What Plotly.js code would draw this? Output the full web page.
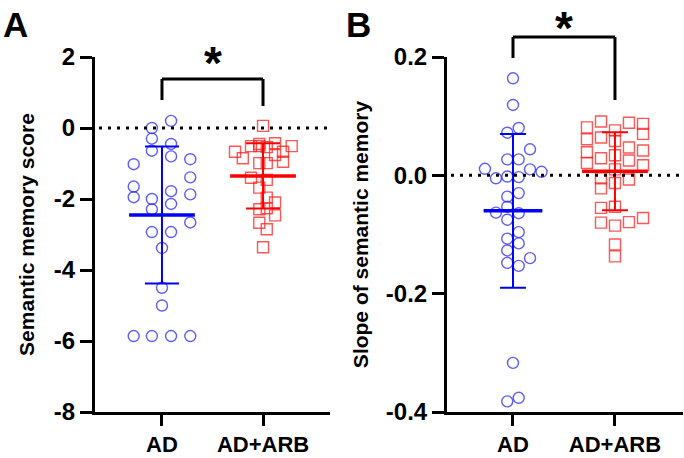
<!DOCTYPE html>
<html>
<head>
<meta charset="utf-8">
<script src="https://cdn.plot.ly/plotly-3.0.1.min.js"></script>
<style>html,body{margin:0;padding:0;background:#fff;}#chart{width:684px;height:458px;}</style>
</head>
<body>
<div id="chart"></div>
<script>
// ---- data ----
const groups = ['AD', 'AD+ARB'];

// Panel A: semantic memory score
const scoreAD = [0.0, 0.2, -0.3, -0.45, -0.64, -0.8, -0.88, -1.02, -1.39, -1.65, -1.95, -1.78, -1.87,
  -2.0, -2.14, -2.29, -2.66, -2.93, -2.93, -3.38, -4.5, -5.0, -5.86, -5.86, -5.86, -5.86];
const scoreADJitter = [-0.1, 0.09, -0.1, 0.09, -0.1, 0.09, 0.28, -0.28, 0.28, -0.28, -0.28, 0.09, 0.28,
  -0.1, 0.09, -0.1, 0.28, -0.1, 0.09, 0, 0, 0, -0.28, -0.1, 0.09, 0.28];
const scoreARB = [0.06, -0.67, -0.85, -0.51, -0.51, -0.54, -0.43, -0.67, -0.51, -0.99, -0.99, -0.76, -0.95,
  -1.4, -1.46, -1.68, -1.96, -2.1, -2.29, -2.26, -2.46, -2.67, -2.85, -3.36, -0.45];
const scoreARBJitter = [0, -0.277, -0.2, -0.119, -0.037, 0.037, 0.119, 0.198, 0.284, -0.037, 0.037, 0.119, 0.198,
  -0.119, 0.037, -0.037, 0.037, 0.119, -0.037, 0.037, 0.119, -0.037, 0.037, 0, -0.037];
const scoreMean = [-2.45, -1.35];
const scoreSD = [1.93, 0.92];

// Panel B: slope of semantic memory
const slopeAD = [0.164, 0.119, 0.080, 0.072, 0.044, 0.027, 0.027, 0.011, 0.010, 0.006, -0.005, -0.002, -0.003,
  -0.036, -0.030, -0.053, -0.063, -0.064, -0.075, -0.096, -0.107, -0.115, -0.127, -0.140, -0.148, -0.153,
  -0.317, -0.382, -0.376];
const slopeADJitter = [0, 0, 0.056, -0.056, 0.167, -0.056, 0.056, -0.275, 0.167, 0.28, -0.167, -0.056, 0.056,
  -0.056, 0.056, -0.056, -0.167, 0.056, -0.056, 0.056, -0.056, 0.056, -0.056, 0.167, -0.056, 0.056,
  0, -0.056, 0.056];
const slopeARB = [0.081, 0.061, 0.039, 0.021, 0.091, 0.064, 0.029, 0.076, 0.058, 0.034, 0.010, 0.089, 0.047,
  0.025, 0.087, 0.070, 0.042, 0.017, -0.005, -0.022, -0.013, -0.007, -0.055, -0.053, -0.080, -0.085,
  -0.079, -0.072, -0.117, -0.137];
const slopeARBJitter = [-0.275, -0.275, -0.275, -0.275, -0.137, -0.137, -0.137, 0, 0, 0, 0, 0.137, 0.137,
  0.137, 0.275, 0.275, 0.275, 0.275, -0.137, -0.137, 0, 0.137, -0.137, 0, -0.137, 0,
  0.137, 0.275, 0, 0];
const slopeMean = [-0.060, 0.007];
const slopeSD = [0.130, 0.066];

// tick labels
const scoreTicks = [-8, -6, -4, -2, 0, 2];
const scoreTickText = ['-8', '-6', '-4', '-2', '0', '2'];
const slopeTicks = [-0.4, -0.2, 0.0, 0.2];
const slopeTickText = ['-0.4', '-0.2', '0.0', '0.2'];

// ---- styles ----
const BLUE = '#0000ff', RED = '#ff0000';
const BLUE_PT = 'rgba(40,40,255,0.75)', RED_PT = 'rgba(255,30,30,0.75)';
const FAM = '"Liberation Sans", Arial, sans-serif';
const TICKFONT = {family: FAM, size: 24, color: '#000', weight: 700};
const XTICKFONT = {family: FAM, size: 22, color: '#000', weight: 700};
const TITLEFONT = {family: FAM, size: 21, color: '#000', weight: 700};
const W = 684, H = 458;
const px = x => x / W, py = y => 1 - y / H;

function pts(vals, jit, center, color, symbol, xa, ya) {
  return {type: 'scatter', mode: 'markers', x: jit.map(j => center + j), y: vals, xaxis: xa, yaxis: ya,
    marker: {symbol: symbol, size: 11, color: color, line: {width: 1.4, color: color}},
    hoverinfo: 'skip', showlegend: false, cliponaxis: false};
}
function summary(i, mean, sd, color, size, cap, xa, ya) {
  return {type: 'scatter', mode: 'markers', x: [i], y: [mean[i]], xaxis: xa, yaxis: ya,
    marker: {symbol: 'line-ew', size: size, color: color, line: {width: 3.5, color: color}},
    error_y: {type: 'data', array: [sd[i]], symmetric: true, color: color, thickness: 2, width: cap},
    hoverinfo: 'skip', showlegend: false, cliponaxis: false};
}

const data = [
  pts(scoreAD, scoreADJitter, 0, BLUE_PT, 'circle-open', 'x', 'y'),
  pts(scoreARB, scoreARBJitter, 1, RED_PT, 'square-open', 'x', 'y'),
  summary(0, scoreMean, scoreSD, BLUE, 47, 17, 'x', 'y'),
  summary(1, scoreMean, scoreSD, RED, 47, 17, 'x', 'y'),
  pts(slopeAD, slopeADJitter, 0, BLUE_PT, 'circle-open', 'x2', 'y2'),
  pts(slopeARB, slopeARBJitter, 1, RED_PT, 'square-open', 'x2', 'y2'),
  summary(0, slopeMean, slopeSD, BLUE, 42, 13, 'x2', 'y2'),
  summary(1, slopeMean, slopeSD, RED, 47, 13, 'x2', 'y2')
];

const yDom = [py(412), py(57)];
const axisCommon = {showline: true, linewidth: 3, linecolor: '#000', ticks: 'outside', ticklen: 12,
  tickwidth: 3, tickcolor: '#000', showgrid: false, zeroline: false, tickfont: TICKFONT, fixedrange: true};
const xExtra = {ticklen: 11, tickfont: XTICKFONT};

const layout = {
  width: W, height: H, margin: {l: 0, r: 0, t: 0, b: 0}, paper_bgcolor: '#fff', plot_bgcolor: 'rgba(0,0,0,0)',
  showlegend: false,
  xaxis: Object.assign({}, axisCommon, xExtra, {domain: [px(95), px(330)], range: [-0.663, 1.663],
    tickvals: [0, 1], ticktext: groups, anchor: 'y'}),
  yaxis: Object.assign({}, axisCommon, {domain: yDom, range: [-8, 2], tickvals: scoreTicks, ticktext: scoreTickText,
    anchor: 'x', title: {text: 'Semantic memory score', font: TITLEFONT, standoff: 14}}),
  xaxis2: Object.assign({}, axisCommon, xExtra, {domain: [px(447), px(683)], range: [-0.647, 1.667],
    tickvals: [0, 1], ticktext: groups, anchor: 'y2'}),
  yaxis2: Object.assign({}, axisCommon, {domain: yDom, range: [-0.4, 0.2], tickvals: slopeTicks, ticktext: slopeTickText,
    anchor: 'x2', title: {text: 'Slope of semantic memory', font: TITLEFONT, standoff: 12}}),
  shapes: [
    // zero reference lines
    {type: 'line', xref: 'paper', yref: 'y', x0: px(99), x1: px(330), y0: 0, y1: 0,
      line: {color: '#000', width: 3, dash: '3px,6px'}},
    {type: 'line', xref: 'paper', yref: 'y2', x0: px(451), x1: px(684), y0: 0, y1: 0,
      line: {color: '#000', width: 3, dash: '3px,6px'}},
    // bracket A
    {type: 'line', xref: 'x', yref: 'paper', x0: 0, x1: 1, y0: py(79), y1: py(79), line: {color: '#000', width: 3}},
    {type: 'line', xref: 'x', yref: 'paper', x0: 0, x1: 0, y0: py(79), y1: py(100), line: {color: '#000', width: 3}},
    {type: 'line', xref: 'x', yref: 'paper', x0: 1, x1: 1, y0: py(79), y1: py(106), line: {color: '#000', width: 3}},
    // bracket B
    {type: 'line', xref: 'x2', yref: 'paper', x0: 0, x1: 1, y0: py(37), y1: py(37), line: {color: '#000', width: 3}},
    {type: 'line', xref: 'x2', yref: 'paper', x0: 0, x1: 0, y0: py(37), y1: py(58), line: {color: '#000', width: 3}},
    {type: 'line', xref: 'x2', yref: 'paper', x0: 1, x1: 1, y0: py(37), y1: py(100), line: {color: '#000', width: 3}}
  ],
  annotations: [
    {text: 'A', xref: 'paper', yref: 'paper', x: px(15), y: py(25), xanchor: 'center', yanchor: 'middle',
      showarrow: false, font: {family: FAM, size: 35, color: '#000', weight: 700}},
    {text: 'B', xref: 'paper', yref: 'paper', x: px(358), y: py(25), xanchor: 'center', yanchor: 'middle',
      showarrow: false, font: {family: FAM, size: 35, color: '#000', weight: 700}},
    {text: '*', xref: 'x', yref: 'paper', x: 0.5, y: py(63), xanchor: 'center', yanchor: 'middle',
      showarrow: false, font: {family: FAM, size: 46, color: '#000', weight: 700}},
    {text: '*', xref: 'x2', yref: 'paper', x: 0.5, y: 1, xanchor: 'center', yanchor: 'top',
      showarrow: false, font: {family: FAM, size: 46, color: '#000', weight: 700}}
  ]
};

Plotly.newPlot('chart', data, layout, {staticPlot: true, displayModeBar: false});
</script>
</body>
</html>
